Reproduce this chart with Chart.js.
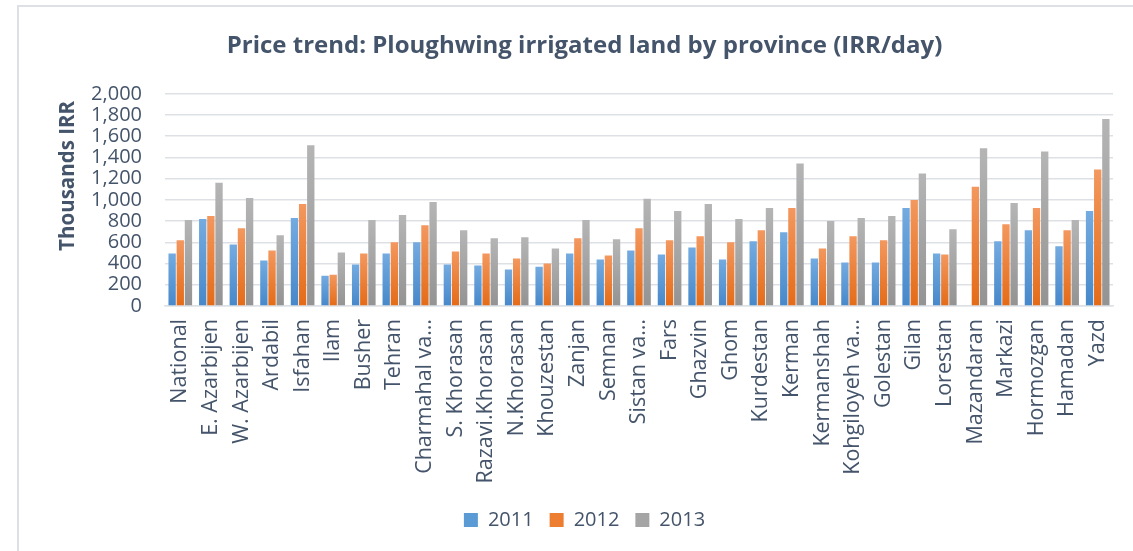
<!DOCTYPE html>
<html>
<head>
<meta charset="utf-8">
<script src="https://cdn.jsdelivr.net/npm/chart.js@4.4.1/dist/chart.umd.min.js"></script>
<style>
html,body{margin:0;padding:0;background:#fff;}
#wrap{position:relative;width:1133px;height:551px;}
canvas{display:block;}
</style>
</head>
<body>
<div id="wrap"><canvas id="c" width="1133" height="551"></canvas></div>
<script>
const categories = ["National","E. Azarbijen","W. Azarbijen","Ardabil","Isfahan","Ilam","Busher","Tehran","Charmahal va…","S. Khorasan","Razavi.Khorasan","N.Khorasan","Khouzestan","Zanjan","Semnan","Sistan va…","Fars","Ghazvin","Ghom","Kurdestan","Kerman","Kermanshah","Kohgiloyeh va…","Golestan","Gilan","Lorestan","Mazandaran","Markazi","Hormozgan","Hamadan","Yazd"];
const values2011 = [495,820,580,430,830,286,390,495,600,390,381,343,371,495,438,524,486,552,438,610,695,448,410,410,924,495,null,610,714,562,895];
const values2012 = [619,848,733,524,962,295,495,600,762,514,495,448,400,638,476,733,619,657,600,714,924,543,657,619,1000,486,1124,771,924,714,1286];
const values2013 = [810,1162,1019,667,1514,505,810,857,981,714,638,648,543,810,629,1010,895,962,819,924,1343,800,829,848,1248,724,1486,971,1457,810,1762];
const seriesNames = ["2011","2012","2013"];
const yTicks = [0,200,400,600,800,1000,1200,1400,1600,1800,2000];

const gradStops = [["#74ABE0","#4788CA"],["#F3985F","#E46B17"],["#B5B5B5","#939393"]];
const solid = ["#5B9BD5","#ED7D31","#A5A5A5"];
const textColor = "#44546A";
const FONT = 'Open Sans';

function barGradient(i){
  return function(ctx){
    const chart = ctx.chart;
    if (!chart.chartArea || ctx.type !== 'data') return solid[i];
    const v = ctx.raw;
    if (v == null) return solid[i];
    const ys = chart.scales.y;
    const top = ys.getPixelForValue(v), bot = ys.getPixelForValue(0);
    if (!isFinite(top) || !isFinite(bot) || top === bot) return solid[i];
    const g = chart.ctx.createLinearGradient(0, top, 0, bot);
    g.addColorStop(0, gradStops[i][0]);
    g.addColorStop(1, gradStops[i][1]);
    return g;
  };
}

const frame = {
  id: 'frame',
  beforeDraw(chart){
    const c = chart.ctx;
    c.save();
    c.fillStyle = '#fff';
    c.fillRect(0,0,chart.width,chart.height);
    c.strokeStyle = '#DDE1E6';
    c.lineWidth = 2;
    c.strokeRect(18, 6, 1140, 560);
    c.restore();
  }
};

const datasets = [values2011, values2012, values2013].map((d,i)=>({
  label: seriesNames[i],
  data: d,
  backgroundColor: barGradient(i),
  borderWidth: 0,
  categoryPercentage: 0.8,
  barPercentage: 0.9
}));

new Chart(document.getElementById('c'), {
  type: 'bar',
  data: { labels: categories, datasets },
  plugins: [frame],
  options: {
    responsive: false,
    animation: false,
    layout: { padding: { left: 56, right: 20, top: 10, bottom: 11 } },
    plugins: {
      title: {
        display: true,
        text: 'Price trend: Ploughwing irrigated land by province (IRR/day)',
        color: textColor,
        font: { family: FONT, size: 24, weight: 'bold' },
        padding: { top: 22, bottom: 33 }
      },
      legend: {
        position: 'bottom',
        labels: {
          color: textColor,
          font: { family: FONT, size: 20 },
          boxWidth: 14, boxHeight: 14, padding: 16,
          generateLabels(chart){
            return chart.data.datasets.map((ds,i)=>({
              text: ds.label, fillStyle: solid[i], strokeStyle: solid[i], lineWidth: 0,
              fontColor: textColor, datasetIndex: i, hidden: false
            }));
          }
        }
      },
      tooltip: { enabled: false }
    },
    scales: {
      x: {
        grid: { display: false },
        border: { display: true, color: '#DDE1E6', width: 1.5 },
        ticks: {
          color: textColor, font: { family: FONT, size: 21.5 },
          minRotation: 90, maxRotation: 90, autoSkip: false, padding: 5
        },
        afterFit(s){ s.height = 188; }
      },
      y: {
        min: 0, max: 2000,
        afterBuildTicks(s){ s.ticks = yTicks.map(v=>({value:v})); },
        grid: { color: '#DDE1E6', lineWidth: 1.5, drawTicks: false },
        border: { display: false },
        ticks: {
          color: textColor, font: { family: FONT, size: 20 }, padding: 23,
          autoSkip: false,
          callback: v => v.toLocaleString('en-US')
        },
        title: {
          display: true, text: '\u00A0\u00A0\u00A0\u00A0\u00A0\u00A0\u00A0\u00A0\u00A0Thousands IRR', color: textColor,
          font: { family: FONT, size: 20.5, weight: 'bold' }, padding: 0
        },
        afterFit(s){ s.width = 109; }
      }
    }
  }
});
</script>
</body>
</html>
